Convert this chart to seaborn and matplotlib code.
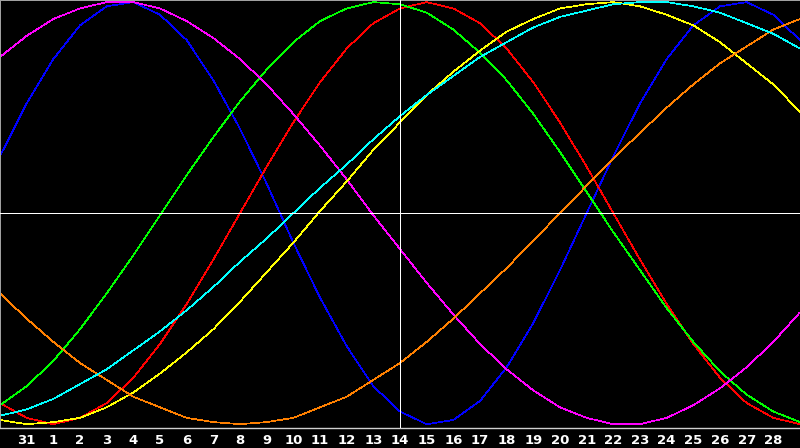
import pandas as pd
from matplotlib import pyplot as plt
import seaborn as sns

# Day slots shown on the chart (slot 15 is "today", marked by the vertical line)
days = list(range(31))
day_labels = ["31"] + [str(d) for d in range(1, 29)]
label_slots = list(range(1, 30))
today_slot = 15

# Cycle values in percent for every day slot
physical = [27, 52, 73, 89, 98, 100, 94, 82, 63, 40, 14, -14, -40, -63, -82, -94,
            -100, -98, -89, -73, -52, -27, 0, 27, 52, 73, 89, 98, 100, 94, 82]
emotional = [-90, -97, -100, -97, -90, -78, -62, -43, -22, 0, 22, 43, 62, 78, 90, 97,
             100, 97, 90, 78, 62, 43, 22, 0, -22, -43, -62, -78, -90, -97, -100]
intellectual = [-91, -82, -70, -55, -38, -20, -1, 18, 36, 53, 68, 81, 91, 97, 100, 99,
                95, 87, 76, 63, 47, 29, 10, -9, -27, -45, -61, -75, -86, -94, -99]
intuitive = [74, 84, 92, 97, 100, 100, 97, 91, 83, 73, 61, 47, 32, 16, -1, -17,
             -33, -48, -62, -74, -84, -92, -97, -100, -100, -97, -91, -83, -73, -61, -47]
aesthetic = [-98, -100, -99, -97, -92, -85, -76, -66, -55, -42, -28, -14, 1, 15, 30, 43,
             56, 67, 77, 86, 92, 97, 99, 100, 98, 94, 89, 81, 71, 61, 48]
awareness = [-38, -50, -61, -71, -79, -87, -92, -97, -99, -100, -99, -97, -92, -87, -79, -71,
             -61, -50, -38, -26, -13, 0, 13, 26, 38, 50, 61, 71, 79, 87, 92]
spiritual = [-96, -93, -88, -81, -74, -65, -56, -46, -35, -23, -12, 0, 12, 23, 35, 46,
             56, 65, 74, 81, 88, 93, 96, 99, 100, 100, 98, 95, 90, 85, 78]

cycles = {
    "physical": physical,
    "emotional": emotional,
    "intellectual": intellectual,
    "intuitive": intuitive,
    "aesthetic": aesthetic,
    "awareness": awareness,
    "spiritual": spiritual,
}
colors = {
    "physical": "#0000ff",
    "emotional": "#ff0000",
    "intellectual": "#00ff00",
    "intuitive": "#ff00ff",
    "aesthetic": "#ffff00",
    "awareness": "#ff8000",
    "spiritual": "#00ffff",
}

# Long form table for seaborn
rows = []
for name, values in cycles.items():
    for d, v in zip(days, values):
        rows.append({"day": d, "value": v, "cycle": name})
df = pd.DataFrame(rows)

sns.set_style("dark")
plt.rcParams["font.family"] = ["DejaVu Sans"]

fig = plt.figure(figsize=(8, 4.48), dpi=100, facecolor="black")
ax = fig.add_axes([0, 20 / 448, 1, 428 / 448])
ax.set_facecolor("black")

# Centre cross: zero line and today line
ax.axhline(0, color="white", linewidth=0.72, zorder=3)
ax.axvline(today_slot, color="white", linewidth=0.72, zorder=3)

sns.lineplot(data=df, x="day", y="value", hue="cycle", palette=colors,
             legend=False, linewidth=0.5, ax=ax, sort=False, zorder=2)
for line in ax.lines:
    line.set_antialiased(False)

ax.set_xlim(0, 30)
ax.set_ylim(-101.8, 101)
ax.grid(False)
ax.set_xlabel("")
ax.set_ylabel("")
ax.set_yticks([])
ax.set_xticks(label_slots)
ax.set_xticklabels(day_labels)
ax.tick_params(axis="x", direction="in", length=4, width=0.72, color="white",
               labelcolor="white", labelsize=9.5, pad=4)
for lbl in ax.get_xticklabels():
    lbl.set_fontweight("bold")

# Frame round the plot area
for side in ["left", "top", "right"]:
    ax.spines[side].set_visible(True)
    ax.spines[side].set_color("#a0a0a0")
    ax.spines[side].set_linewidth(0.72)
ax.spines["bottom"].set_visible(True)
ax.spines["bottom"].set_color("#d0d0d0")
ax.spines["bottom"].set_linewidth(1)

plt.savefig("out.png", dpi=100, facecolor="black")
plt.close()
